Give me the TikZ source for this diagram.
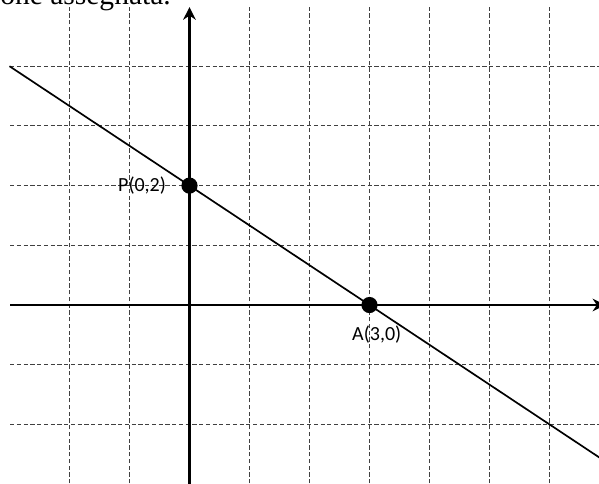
\documentclass[tikz,border=0pt]{standalone}
\usepackage{fontspec}
\setmainfont{Liberation Serif}
\newfontfamily\lblfont{Carlito}
\usetikzlibrary{arrows.meta}
\begin{document}
\begin{tikzpicture}[x=1cm,y=0.995cm,
  gridline/.style={draw=black!75,line width=0.45pt,dash pattern=on 2pt off 1.2pt},
  axisline/.style={line width=1.3pt,-{Stealth[length=6pt,width=6pt]}},
  mainline/.style={line width=0.8pt},
  dotnode/.style={circle,fill=black,inner sep=0pt,minimum size=0.27cm},
  lbl/.style={font=\lblfont\fontsize{9.5}{10}\selectfont,inner sep=1pt}]
\useasboundingbox (-3.158,-2.998) rectangle (6.825,5.109);
\clip (-3.158,-2.998) rectangle (6.825,5.109);
% top text fragment (cut off at the top edge, as in the reference)
\node[anchor=base west,inner sep=0pt,font=\fontsize{14}{16}\selectfont] (frag) at (-3.16,5.03) {one assegnata.};
% grid
\foreach \x in {-2,-1,1,2,3,4,5,6}
  \draw[gridline] (\x,-3.1) -- (\x,4.99);
\foreach \y in {-2,-1,1,2,3,4}
  \draw[gridline] (-2.99,\y) -- (6.9,\y);
% axes
\coordinate (xs) at (-2.99,0);
\coordinate (xe) at (6.93,0);
\coordinate (ys) at (0,-3.1);
\coordinate (ye) at (0,4.99);
\draw[axisline] (xs) -- (xe);
\draw[axisline] (ys) -- (ye);
% points
\node[dotnode] (P) at (0,2) {};
\node[dotnode] (A) at (3,0) {};
% line through P and A
\coordinate (L1) at (-3,4);
\coordinate (L2) at (6.9,-2.6);
\draw[mainline] (L1) -- (L2);
% labels
\node[lbl,anchor=east] (Plbl) at (-0.35,2) {P(0,2)};
\node[lbl] (Albl) at (3.12,-0.5) {A(3,0)};
\end{tikzpicture}
\end{document}
